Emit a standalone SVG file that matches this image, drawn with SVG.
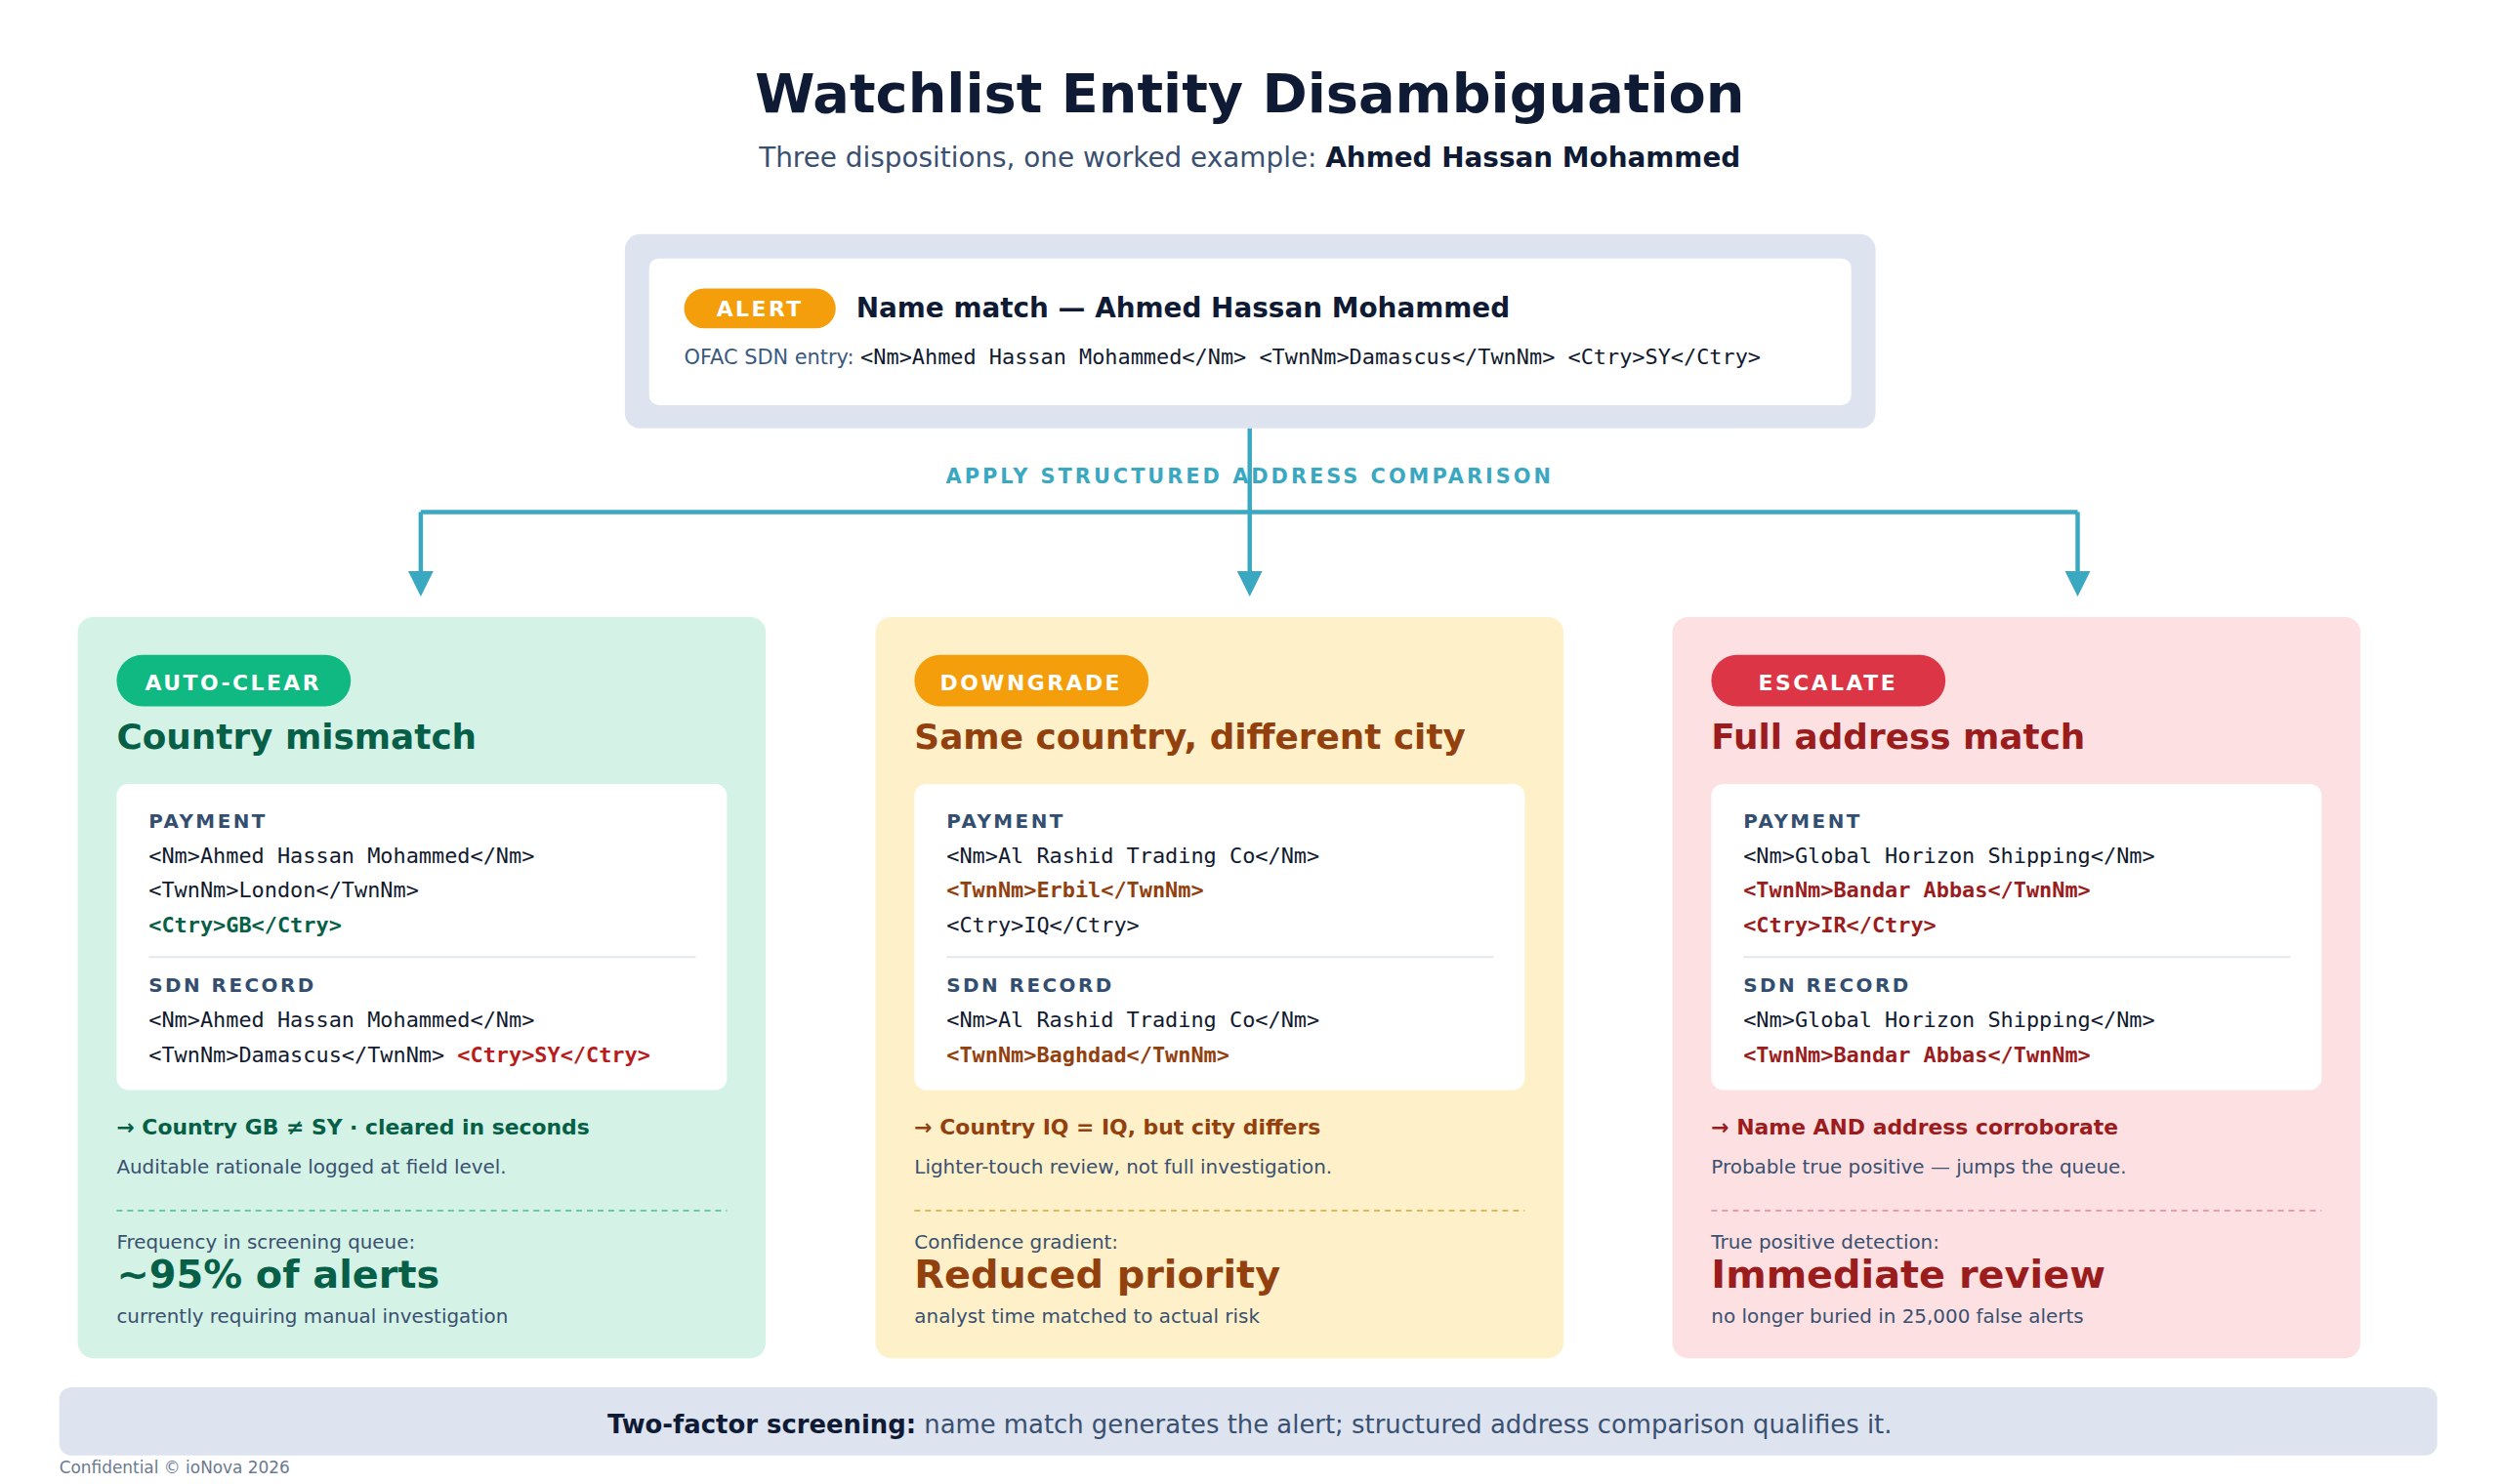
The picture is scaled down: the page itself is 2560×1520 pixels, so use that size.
<svg xmlns="http://www.w3.org/2000/svg" width="2560" height="1520" viewBox="0 0 2560 1520">
<style>
text{font-family:"DejaVu Sans","Noto Sans",sans-serif}
.mono{font-family:"DejaVu Sans Mono","Liberation Mono",monospace;font-size:22px}
.dk{fill:#111a2e}
.g{fill:#065f46;font-weight:bold}
.o{fill:#92400e;font-weight:bold}
.r{fill:#9b1c1c;font-weight:bold}
.lbl{font-size:20px;font-weight:bold;letter-spacing:2.5px;fill:#334e6e}
.sub{font-size:20px;fill:#3a5070}
.pill{font-size:22px;font-weight:bold;letter-spacing:2.5px;fill:#fff}
.conn{stroke:#3aa8c1;stroke-width:4.5;fill:none}
.ah{fill:#3aa8c1}
</style>
<rect width="2560" height="1520" fill="#fff"/>
<g transform="scale(0.9951)">
<g id="title">
<text x="1286" y="116" text-anchor="middle" font-size="56" font-weight="bold" fill="#0f1b35">Watchlist Entity Disambiguation</text>
<text x="1286" y="172" text-anchor="middle" font-size="28" fill="#3a5070">Three dispositions, one worked example: <tspan font-weight="bold" fill="#0f1b35">Ahmed Hassan Mohammed</tspan></text>
</g>
<g id="alert">
<rect x="643" y="241" width="1287" height="200" rx="16" fill="#dde4f0"/>
<rect x="668" y="266" width="1237" height="151" rx="10" fill="#fff"/>
<rect x="704" y="297" width="156" height="41" rx="20.5" fill="#f59e0b"/>
<text x="782" y="326" text-anchor="middle" class="pill" font-size="20">ALERT</text>
<text x="881" y="327" font-size="28" font-weight="bold" fill="#0f1b35">Name match — Ahmed Hassan Mohammed</text>
<text x="704" y="375" font-size="21" fill="#3a5a80">OFAC SDN entry: <tspan class="mono dk" font-size="21">&lt;Nm&gt;Ahmed Hassan Mohammed&lt;/Nm&gt; &lt;TwnNm&gt;Damascus&lt;/TwnNm&gt; &lt;Ctry&gt;SY&lt;/Ctry&gt;</tspan></text>
</g>
<g id="connectors">
<path class="conn" d="M1286,441 V527"/>
<path class="conn" d="M433,527 H2138"/>
<path class="conn" d="M433,527 V592"/>
<path class="conn" d="M1286,527 V592"/>
<path class="conn" d="M2138,527 V592"/>
<polygon class="ah" points="420,588 446,588 433,614"/>
<polygon class="ah" points="1273,588 1299,588 1286,614"/>
<polygon class="ah" points="2125,588 2151,588 2138,614"/>
<text x="1286" y="497" text-anchor="middle" font-size="21" font-weight="bold" letter-spacing="3" fill="#3aa8c1">APPLY STRUCTURED ADDRESS COMPARISON</text>
</g>
<g id="card-autoclear">
<rect x="80" y="635" width="708" height="763" rx="16" fill="#d4f3e6"/>
<rect x="120" y="674" width="241" height="53" rx="26.5" fill="#10b981"/>
<text x="240" y="710" text-anchor="middle" class="pill">AUTO-CLEAR</text>
<text x="120" y="771" font-size="36" font-weight="bold" fill="#065f46">Country mismatch</text>
<rect x="120" y="807" width="628" height="315" rx="12" fill="#fff"/>
<text x="153" y="852" class="lbl">PAYMENT</text>
<text x="153" y="888" class="mono dk">&lt;Nm&gt;Ahmed Hassan Mohammed&lt;/Nm&gt;</text>
<text x="153" y="924" class="mono dk">&lt;TwnNm&gt;London&lt;/TwnNm&gt;</text>
<text x="153" y="960" class="mono g">&lt;Ctry&gt;GB&lt;/Ctry&gt;</text>
<line x1="153" y1="985" x2="716" y2="985" stroke="#e2e8f0" stroke-width="2"/>
<text x="153" y="1021" class="lbl">SDN RECORD</text>
<text x="153" y="1057" class="mono dk">&lt;Nm&gt;Ahmed Hassan Mohammed&lt;/Nm&gt;</text>
<text x="153" y="1093" class="mono dk">&lt;TwnNm&gt;Damascus&lt;/TwnNm&gt; <tspan class="r" style="fill:#b91c1c">&lt;Ctry&gt;SY&lt;/Ctry&gt;</tspan></text>
<text x="120" y="1168" font-size="22" font-weight="bold" fill="#065f46">→ Country GB ≠ SY · cleared in seconds</text>
<text x="120" y="1208" class="sub">Auditable rationale logged at field level.</text>
<line x1="120" y1="1246" x2="748" y2="1246" stroke="#6cc9a4" stroke-width="2" stroke-dasharray="6,5"/>
<text x="120" y="1285" class="sub">Frequency in screening queue:</text>
<text x="120" y="1326" font-size="40" font-weight="bold" fill="#065f46">~95% of alerts</text>
<text x="120" y="1362" class="sub">currently requiring manual investigation</text>
</g>
<g id="card-downgrade">
<rect x="901" y="635" width="708" height="763" rx="16" fill="#fef0c8"/>
<rect x="941" y="674" width="241" height="53" rx="26.5" fill="#f59e0b"/>
<text x="1061" y="710" text-anchor="middle" class="pill">DOWNGRADE</text>
<text x="941" y="771" font-size="36" font-weight="bold" fill="#92400e">Same country, different city</text>
<rect x="941" y="807" width="628" height="315" rx="12" fill="#fff"/>
<text x="974" y="852" class="lbl">PAYMENT</text>
<text x="974" y="888" class="mono dk">&lt;Nm&gt;Al Rashid Trading Co&lt;/Nm&gt;</text>
<text x="974" y="924" class="mono o">&lt;TwnNm&gt;Erbil&lt;/TwnNm&gt;</text>
<text x="974" y="960" class="mono dk">&lt;Ctry&gt;IQ&lt;/Ctry&gt;</text>
<line x1="974" y1="985" x2="1537" y2="985" stroke="#e2e8f0" stroke-width="2"/>
<text x="974" y="1021" class="lbl">SDN RECORD</text>
<text x="974" y="1057" class="mono dk">&lt;Nm&gt;Al Rashid Trading Co&lt;/Nm&gt;</text>
<text x="974" y="1093" class="mono o">&lt;TwnNm&gt;Baghdad&lt;/TwnNm&gt;</text>
<text x="941" y="1168" font-size="22" font-weight="bold" fill="#92400e">→ Country IQ = IQ, but city differs</text>
<text x="941" y="1208" class="sub">Lighter-touch review, not full investigation.</text>
<line x1="941" y1="1246" x2="1569" y2="1246" stroke="#e0b860" stroke-width="2" stroke-dasharray="6,5"/>
<text x="941" y="1285" class="sub">Confidence gradient:</text>
<text x="941" y="1326" font-size="40" font-weight="bold" fill="#92400e">Reduced priority</text>
<text x="941" y="1362" class="sub">analyst time matched to actual risk</text>
</g>
<g id="card-escalate">
<rect x="1721" y="635" width="708" height="763" rx="16" fill="#fde0e2"/>
<rect x="1761" y="674" width="241" height="53" rx="26.5" fill="#dc3545"/>
<text x="1881" y="710" text-anchor="middle" class="pill">ESCALATE</text>
<text x="1761" y="771" font-size="36" font-weight="bold" fill="#9b1c1c">Full address match</text>
<rect x="1761" y="807" width="628" height="315" rx="12" fill="#fff"/>
<text x="1794" y="852" class="lbl">PAYMENT</text>
<text x="1794" y="888" class="mono dk">&lt;Nm&gt;Global Horizon Shipping&lt;/Nm&gt;</text>
<text x="1794" y="924" class="mono r">&lt;TwnNm&gt;Bandar Abbas&lt;/TwnNm&gt;</text>
<text x="1794" y="960" class="mono r">&lt;Ctry&gt;IR&lt;/Ctry&gt;</text>
<line x1="1794" y1="985" x2="2357" y2="985" stroke="#e2e8f0" stroke-width="2"/>
<text x="1794" y="1021" class="lbl">SDN RECORD</text>
<text x="1794" y="1057" class="mono dk">&lt;Nm&gt;Global Horizon Shipping&lt;/Nm&gt;</text>
<text x="1794" y="1093" class="mono r">&lt;TwnNm&gt;Bandar Abbas&lt;/TwnNm&gt;</text>
<text x="1761" y="1168" font-size="22" font-weight="bold" fill="#9b1c1c">→ Name AND address corroborate</text>
<text x="1761" y="1208" class="sub">Probable true positive — jumps the queue.</text>
<line x1="1761" y1="1246" x2="2389" y2="1246" stroke="#e8a0a6" stroke-width="2" stroke-dasharray="6,5"/>
<text x="1761" y="1285" class="sub">True positive detection:</text>
<text x="1761" y="1326" font-size="40" font-weight="bold" fill="#9b1c1c">Immediate review</text>
<text x="1761" y="1362" class="sub">no longer buried in 25,000 false alerts</text>
</g>
<g id="footer">
<rect x="61" y="1428" width="2447" height="70" rx="12" fill="#dde4f0"/>
<text x="1286" y="1475" text-anchor="middle" font-size="26" fill="#3a5070"><tspan font-weight="bold" fill="#0f1b35">Two-factor screening:</tspan> name match generates the alert; structured address comparison qualifies it.</text>
<text x="61" y="1516" font-size="17" fill="#6b7a90">Confidential © ioNova 2026</text>
</g>
</g>
</svg>
